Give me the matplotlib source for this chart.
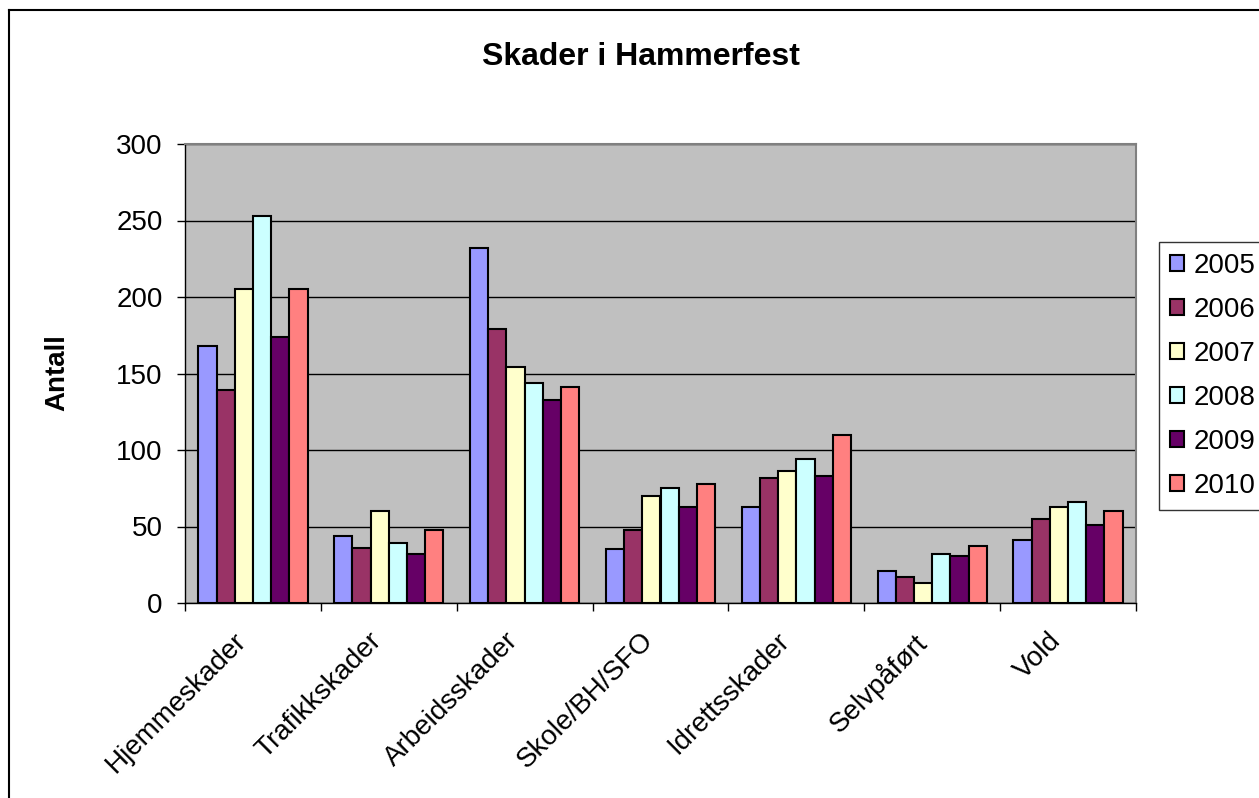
import numpy as np
import matplotlib
matplotlib.use("Agg")
import matplotlib.pyplot as plt
from matplotlib.lines import Line2D
import matplotlib.transforms as mtransforms

plt.rcParams['font.family'] = ['Liberation Sans', 'DejaVu Sans']

categories = ["Hjemmeskader", "Trafikkskader", "Arbeidsskader", "Skole/BH/SFO",
              "Idrettsskader", "Selvpåført", "Vold"]
years = ["2005", "2006", "2007", "2008", "2009", "2010"]
v2005 = [168, 44, 232, 35, 63, 21, 41]
v2006 = [139, 36, 179, 48, 82, 17, 55]
v2007 = [205, 60, 154, 70, 86, 13, 63]
v2008 = [253, 39, 144, 75, 94, 32, 66]
v2009 = [174, 32, 133, 63, 83, 31, 51]
v2010 = [205, 48, 141, 78, 110, 37, 60]
series = [v2005, v2006, v2007, v2008, v2009, v2010]
colors = ["#9999FF", "#993366", "#FFFFCC", "#CCFFFF", "#660066", "#FF8080"]

fig = plt.figure(figsize=(12.59, 7.98), dpi=100)
W, H = 1259, 798
ax = fig.add_axes([185 / W, 1 - 603 / H, (1136 - 185) / W, (603 - 144) / H])
ax.set_facecolor("#C0C0C0")

x = np.arange(len(categories))
w = 0.134
for j, (vals, c, yr) in enumerate(zip(series, colors, years)):
    ax.bar(x + (j - 2.5) * w, vals, width=w, color=c, edgecolor="black",
           linewidth=1.5, label=yr, zorder=3)

ax.set_xlim(-0.5, len(categories) - 0.5)
ax.set_ylim(0, 300)
ax.set_yticks(np.arange(0, 301, 50))
ax.yaxis.grid(True, color="black", linewidth=1, zorder=1)
ax.set_axisbelow(True)
ax.tick_params(axis="y", labelsize=20, length=6, width=1, direction="out", pad=10)

ax.set_xticks(x)
ax.set_xticklabels(categories, rotation=45, ha="right", va="top",
                   rotation_mode="anchor", fontsize=20)
ax.tick_params(axis="x", which="major", length=0, pad=12)
ax.set_xticks(np.arange(-0.5, len(categories), 1.0), minor=True)
ax.tick_params(axis="x", which="minor", length=6, width=1, direction="out")
offset = mtransforms.ScaledTranslation(-0.2, -0.08, fig.dpi_scale_trans)
for lab in ax.get_xticklabels():
    lab.set_transform(lab.get_transform() + offset)

for s in ["top", "right"]:
    ax.spines[s].set_color("#808080")
    ax.spines[s].set_linewidth(1.5)
for s in ["left", "bottom"]:
    ax.spines[s].set_color("black")
    ax.spines[s].set_linewidth(1)

fig.text(57 / W, 1 - 373 / H, "Antall", fontsize=20, fontweight="bold",
         rotation=90, ha="center", va="center")

fig.text(641 / W, 1 - 57 / H, "Skader i Hammerfest", fontsize=23,
         fontweight="bold", ha="center", va="center")

leg = ax.legend(loc="upper left", bbox_to_anchor=(1159 / W, 1 - 242 / H),
                bbox_transform=fig.transFigure, fontsize=20, frameon=True,
                fancybox=False, shadow=False, handlelength=0.5,
                handleheight=0.5, labelspacing=0.645, handletextpad=0.36,
                borderpad=0.4, borderaxespad=0)
leg.get_frame().set_edgecolor("black")
leg.get_frame().set_linewidth(1)

fig.add_artist(Line2D([9 / W, 1], [1 - 10 / H, 1 - 10 / H], color="black",
                      linewidth=1.5, transform=fig.transFigure))
fig.add_artist(Line2D([9 / W, 9 / W], [0, 1 - 10 / H], color="black",
                      linewidth=1.5, transform=fig.transFigure))

fig.savefig("out.png", dpi=100)
